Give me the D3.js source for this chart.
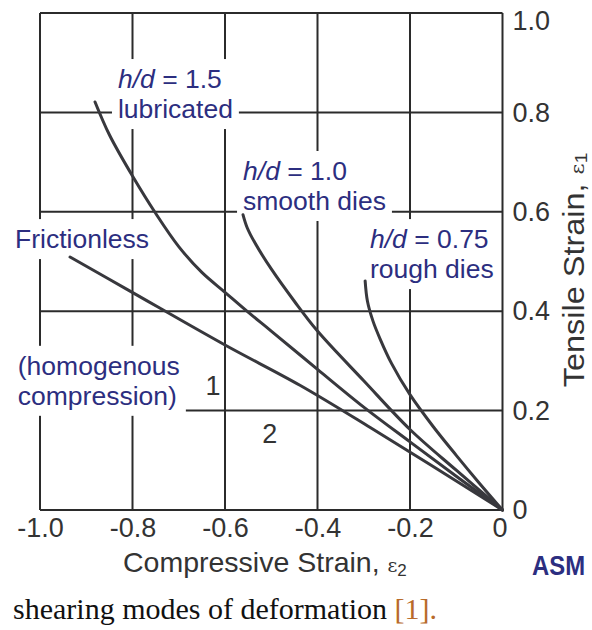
<!DOCTYPE html>
<html><head><meta charset="utf-8">
<script src="https://cdn.jsdelivr.net/npm/d3@7"></script>
<style>
html,body{margin:0;padding:0;background:#fff;}
svg{display:block;}
</style></head>
<body>
<svg id="chart" width="592" height="630"></svg>
<script>
// ---- data ----
const xTicks = [-1.0, -0.8, -0.6, -0.4, -0.2, 0];
const xTickLabels = ["-1.0", "-0.8", "-0.6", "-0.4", "-0.2", "0"];
const yTicks = [0, 0.2, 0.4, 0.6, 0.8, 1.0];
const yTickLabels = ["0", "0.2", "0.4", "0.6", "0.8", "1.0"];

const seriesNames = ["Frictionless", "h/d = 1.5 lubricated", "h/d = 1.0 smooth dies", "h/d = 0.75 rough dies"];
const frictionless = [[-0.935,0.509],[-0.81,0.443],[-0.6,0.332],[-0.438,0.251],[-0.286,0.166],[0,0]];
const lubricated15 = [[-0.881,0.821],[-0.85,0.755],[-0.80,0.672],[-0.75,0.597],[-0.70,0.530],[-0.65,0.478],[-0.60,0.438],[-0.55,0.398],[-0.50,0.360],[-0.40,0.283],[-0.30,0.207],[-0.20,0.137],[-0.10,0.068],[0,0]];
const smooth10 = [[-0.561,0.594],[-0.552,0.568],[-0.535,0.537],[-0.50,0.485],[-0.45,0.420],[-0.40,0.360],[-0.30,0.260],[-0.20,0.162],[-0.10,0.080],[0,0]];
const rough075 = [[-0.297,0.461],[-0.292,0.420],[-0.280,0.380],[-0.265,0.345],[-0.240,0.295],[-0.200,0.232],[-0.150,0.168],[-0.100,0.110],[-0.050,0.054],[0,0]];

const xTitle = "Compressive Strain, ";
const yTitle = "Tensile Strain, ";
const caption = "shearing modes of deformation ";
const captionRef = "[1].";
const sourceText = "ASM";

// annotations: text runs (italic flag), anchored in data units
const annotations = [
  {x: -0.8314, y: 0.849, lines: [[["h/d", true], [" = 1.5", false]], [["lubricated", false]]]},
  {x: -0.561,  y: 0.664, lines: [[["h/d", true], [" = 1.0", false]], [["smooth dies", false]]]},
  {x: -0.2865, y: 0.527, lines: [[["h/d", true], [" = 0.75", false]], [["rough dies", false]]]},
  {x: -1.054,  y: 0.527, lines: [[["Frictionless", false]]]},
  {x: -1.048,  y: 0.272, lines: [[["(homogenous", false]], [["compression)", false]]]}
];
const regionLabels = [{t: "1", x: -0.626, y: 0.231}, {t: "2", x: -0.503, y: 0.135}];

// ---- drawing ----
const svg = d3.select("#chart");
const W = 592, H = 630;
const L = 40, R = 502.5, T = 13, B = 510;
const x = d3.scaleLinear().domain([-1, 0]).range([L, R]);
const y = d3.scaleLinear().domain([0, 1]).range([B, T]);
const SANS = "'Liberation Sans', Arial, Helvetica, sans-serif";
const GRID = "#2b2b2b";
const CURVE = "#38383d";
const NAVY = "#2c2e80";

svg.append("rect").attr("width", W).attr("height", H).attr("fill", "#fff");

// gridlines
const grid = svg.append("g");
grid.selectAll("line.v").data(xTicks).join("line")
  .attr("x1", d => x(d)).attr("x2", d => x(d)).attr("y1", y(1)).attr("y2", y(0))
  .attr("stroke", GRID).attr("stroke-width", 2);
grid.selectAll("line.h").data(yTicks).join("line")
  .attr("y1", d => y(d)).attr("y2", d => y(d)).attr("x1", x(-1)).attr("x2", x(0))
  .attr("stroke", GRID).attr("stroke-width", 2);

// axes (labels only)
const xAxis = svg.append("g").attr("transform", `translate(0,${B})`)
  .call(d3.axisBottom(x).tickValues(xTicks).tickFormat((d, i) => xTickLabels[i]).tickSize(0).tickPadding(8));
const yAxis = svg.append("g").attr("transform", `translate(${R},0)`)
  .call(d3.axisRight(y).tickValues(yTicks).tickFormat((d, i) => yTickLabels[i]).tickSize(0).tickPadding(10));
[xAxis, yAxis].forEach(a => {
  a.select(".domain").remove();
  a.selectAll("text").attr("font-family", SANS).attr("font-size", 27).attr("fill", "#333");
});
yAxis.selectAll(".tick").filter(d => d === 1).select("text").attr("y", 8);
xAxis.selectAll(".tick").filter(d => d === 0).select("text").attr("x", -3);

// annotations with white boxes
const annG = svg.append("g");
annotations.forEach(a => {
  const g = annG.append("g");
  const box = g.append("rect").attr("fill", "#fff");
  const t = g.append("text").attr("font-family", SANS).attr("font-size", 26.5).attr("fill", NAVY);
  a.lines.forEach((runs, li) => {
    runs.forEach((r, ri) => {
      const ts = t.append("tspan").text(r[0]);
      if (ri === 0) ts.attr("x", x(a.x)).attr("y", y(a.y) + li * 30);
      if (r[1]) ts.attr("font-style", "italic");
    });
  });
  const bb = t.node().getBBox();
  box.attr("x", bb.x - 6).attr("y", bb.y - 5).attr("width", bb.width + 12).attr("height", bb.height + 10);
});

regionLabels.forEach(r => {
  svg.append("text").attr("x", x(r.x)).attr("y", y(r.y)).attr("text-anchor", "middle")
    .attr("font-family", SANS).attr("font-size", 27).attr("fill", "#333").text(r.t);
});

// curves
const line = d3.line().x(d => x(d[0])).y(d => y(d[1])).curve(d3.curveCatmullRom.alpha(0.5));
const series = [frictionless, lubricated15, smooth10, rough075];
svg.append("g").selectAll("path").data(series).join("path")
  .attr("d", line).attr("fill", "none").attr("stroke", CURVE)
  .attr("stroke-width", 3).attr("stroke-linecap", "round")
  .append("title").text((d, i) => seriesNames[i]);

// axis titles
const xt = svg.append("text").attr("x", 123).attr("y", 572)
  .attr("font-family", SANS).attr("font-size", 28.5).attr("fill", "#333");
xt.append("tspan").text(xTitle);
xt.append("tspan").attr("font-size", 19).attr("font-family", "'DejaVu Serif', serif").text("ε");
xt.append("tspan").attr("font-size", 17).attr("dy", 4).text("2");

const yt = svg.append("text").attr("transform", `translate(584,270) rotate(-90) scale(1.12,1)`)
  .attr("text-anchor", "middle")
  .attr("font-family", SANS).attr("font-size", 29).attr("fill", "#333");
yt.append("tspan").text(yTitle);
yt.append("tspan").attr("font-size", 19).attr("font-family", "'DejaVu Serif', serif").text("ε");
yt.append("tspan").attr("font-size", 17).attr("dy", 3).text("1");

// source
svg.append("text").attr("x", 532).attr("y", 575)
  .attr("font-family", SANS).attr("font-size", 27).attr("font-weight", "bold")
  .attr("fill", NAVY).attr("textLength", 53).attr("lengthAdjust", "spacingAndGlyphs").text(sourceText);

// caption
const cap = svg.append("text").attr("x", 13).attr("y", 619)
  .attr("font-family", "'Liberation Serif', 'Times New Roman', serif").attr("font-size", 30).attr("fill", "#111");
cap.append("tspan").text(caption);
cap.append("tspan").attr("fill", "#b86a2a").text(captionRef);
</script>
</body></html>
